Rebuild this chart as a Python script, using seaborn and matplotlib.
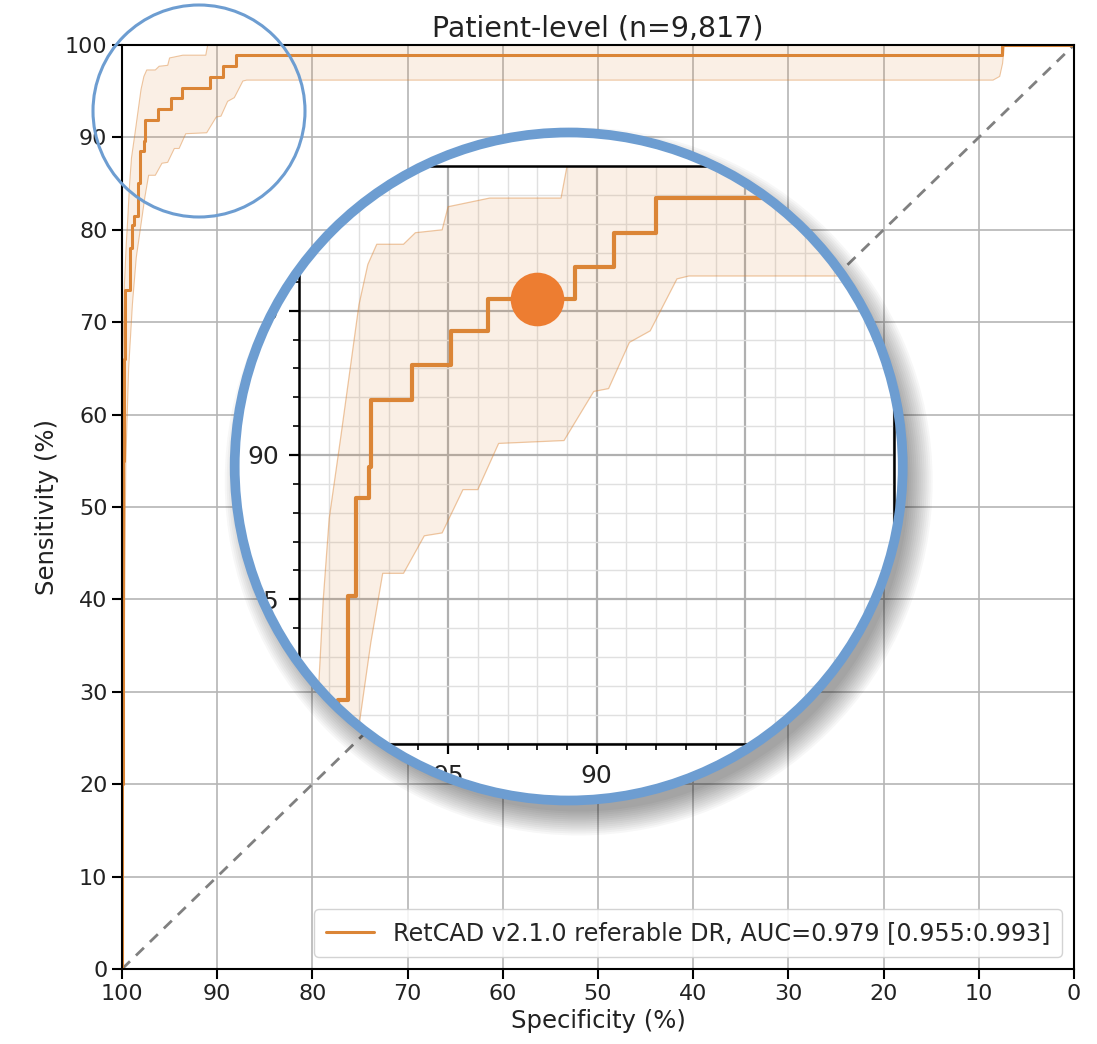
import numpy as np
import pandas as pd
import seaborn as sns
import matplotlib
matplotlib.use("Agg")
from matplotlib import pyplot as plt
from matplotlib.patches import Circle
from matplotlib.path import Path
from matplotlib.ticker import MultipleLocator

# ROC curve knots (steps-pre): specificity (%) and sensitivity (%)
roc_spec = [100, 99.9, 99.8, 99.7, 99.2, 98.9, 98.7, 98.37, 98.11, 97.65, 97.6,
            96.21, 94.9, 93.65, 90.73, 89.41, 88.02, 7.6, 0]
roc_sens = [0, 20, 55, 66, 73.5, 78, 80.5, 81.5, 85.1, 88.5, 89.6,
            91.9, 93.1, 94.3, 95.4, 96.5, 97.7, 98.9, 100]

# confidence band edges
up_spec = [100, 100, 99.9, 99.75, 99.55, 99.4, 99.2, 99.0, 98.6, 98.2, 98.0, 97.7,
           97.4, 96.5, 96.1, 95.2, 95.0, 93.6, 91.2, 91.0, 0]
up_sens = [0, 45, 66, 74, 78.5, 81.1, 85.0, 87.8, 90.7, 93.7, 95.2, 96.6,
           97.3, 97.3, 97.7, 97.8, 98.6, 98.9, 98.9, 100, 100]
lo_spec = [100, 99.8, 99.6, 99.3, 98.9, 98.5, 98.0, 97.6, 97.2, 96.5, 95.8, 95.2,
           94.5, 94.0, 93.3, 91.1, 90.1, 89.6, 88.9, 88.2, 87.3, 86.9, 8.5, 7.8,
           7.5, 7.3, 0]
lo_sens = [0, 30, 55, 65, 72, 77, 80.6, 83.5, 85.9, 85.9, 87.2, 87.3,
           88.8, 88.8, 90.4, 90.5, 92.2, 92.3, 93.9, 94.3, 96.1, 96.2, 96.2, 96.6,
           98.0, 100, 100]

diag_spec = [100, 0]
diag_sens = [0, 100]

# highlighted operating point
dot_spec = [92.0]
dot_sens = [95.4]

legend_label = "RetCAD v2.1.0 referable DR, AUC=0.979 [0.955:0.993]"
title = "Patient-level (n=9,817)"

orange = "#db8536"
blue = "#6d9dd1"
txt = "#222222"

sns.set_theme(style="ticks")
plt.rcParams['font.family'] = ['DejaVu Sans']

W, H = 10.97, 10.44
fig = plt.figure(figsize=(W, H), dpi=100)
ax = fig.add_axes([0.1112, 0.0718, 0.8678, 0.8851], zorder=2)

band_x = np.r_[up_spec, lo_spec[::-1]]
band_y = np.r_[up_sens, lo_sens[::-1]]


def draw_roc(a, lw, edge_lw):
    a.fill(band_x, band_y, color=orange, alpha=0.13, lw=0)
    sns.lineplot(x=up_spec, y=up_sens, sort=False, estimator=None, color=orange,
                 alpha=0.45, lw=edge_lw, ax=a)
    sns.lineplot(x=lo_spec, y=lo_sens, sort=False, estimator=None, color=orange,
                 alpha=0.45, lw=edge_lw, ax=a)
    sns.lineplot(x=roc_spec, y=roc_sens, sort=False, estimator=None, color=orange,
                 lw=lw, drawstyle="steps-pre", ax=a)
    return a.lines[-1]


sns.lineplot(x=diag_spec, y=diag_sens, sort=False, estimator=None, color="gray",
             lw=2, linestyle=(0, (4, 3)), ax=ax)
main_line = draw_roc(ax, 2.2, 0.8)

ax.set_xlim(100, 0)
ax.set_ylim(0, 100)
ax.xaxis.set_major_locator(MultipleLocator(10))
ax.yaxis.set_major_locator(MultipleLocator(10))
ax.grid(True, color="#b5b5b5", lw=1.2)
ax.set_facecolor("white")
for s in ax.spines.values():
    s.set_color("black")
    s.set_linewidth(1.5)
ax.tick_params(labelsize=16, length=7, width=1.5, color="black", labelcolor=txt)
ax.set_xlabel("Specificity (%)", fontsize=17.5, color=txt)
ax.set_ylabel("Sensitivity (%)", fontsize=17.5, color=txt)
ax.set_title(title, fontsize=20.5, color=txt, pad=6)
ax.legend([main_line], [legend_label], loc="lower right", fontsize=17.2,
          framealpha=0.85, fancybox=True, handlelength=2.0, borderpad=0.5)

# magnifier geometry (inches, figure frame)
cx, cy, r = 5.687, 5.775, 3.34

# main axes is drawn over the inset, with a round hole cut in it
th = np.linspace(0, 2 * np.pi, 721)
ring_v = np.c_[cx + (r - 0.04) * np.cos(th), cy - (r - 0.04) * np.sin(th)]
rect_v = np.array([[0, 0], [W, 0], [W, H], [0, H], [0, 0]])
hole = Path(np.r_[rect_v, ring_v],
            [Path.MOVETO] + [Path.LINETO] * 3 + [Path.CLOSEPOLY]
            + [Path.MOVETO] + [Path.LINETO] * 719 + [Path.CLOSEPOLY])
clip_items = [ax.patch] + list(ax.lines) + list(ax.collections) + list(ax.patches)
clip_items += [t.gridline for t in ax.xaxis.get_major_ticks() + ax.yaxis.get_major_ticks()]
for art in clip_items:
    art.set_clip_path(hole, fig.dpi_scale_trans)

# magnified inset underneath
axin = fig.add_axes([0.2730, 0.2877, 0.5419, 0.5530], zorder=1)
draw_roc(axin, 3.0, 0.9)
axin.scatter(dot_spec, dot_sens, s=1490, color="#ed7d31", zorder=10, linewidths=0)
axin.set_xlim(100, 80)
axin.set_ylim(80, 100)
axin.xaxis.set_major_locator(MultipleLocator(5))
axin.yaxis.set_major_locator(MultipleLocator(5))
axin.xaxis.set_minor_locator(MultipleLocator(1))
axin.yaxis.set_minor_locator(MultipleLocator(1))
axin.grid(True, which="major", color="#b0b0b0", lw=1.6)
axin.grid(True, which="minor", color="#e0e0e0", lw=1.0)
for s in axin.spines.values():
    s.set_color("black")
    s.set_linewidth(1.8)
axin.tick_params(which="major", labelsize=18, length=7.5, width=1.6, pad=7,
                 color="black", labelcolor=txt)
axin.tick_params(which="minor", length=4, width=1.2, color="black")
axin.set_xlabel("")
axin.set_ylabel("")

# small marker circle around the magnified region
fig.add_artist(Circle((1.99, 9.33), 1.06, transform=fig.dpi_scale_trans,
                      fill=False, ec=blue, lw=2.2, zorder=4))

# soft drop shadow (outside the lens only), then the ring
for k in range(13):
    sh = Circle((cx + 0.10, cy - 0.15), r - 0.04 + 0.02 * k,
                transform=fig.dpi_scale_trans, fc="black", ec="none",
                alpha=0.032, zorder=3)
    fig.add_artist(sh)
    sh.set_clip_path(hole, fig.dpi_scale_trans)
fig.add_artist(Circle((cx, cy), r, transform=fig.dpi_scale_trans, fill=False,
                      ec=blue, lw=7, zorder=5))

fig.savefig("out.png", dpi=100)
